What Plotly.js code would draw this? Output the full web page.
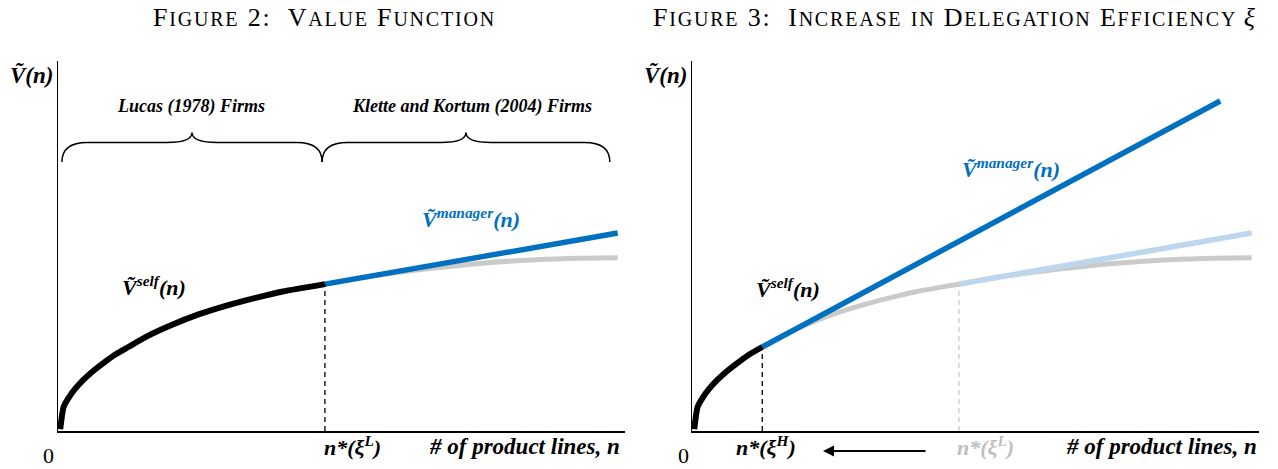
<!DOCTYPE html>
<html>
<head>
<meta charset="utf-8">
<script src="https://cdn.plot.ly/plotly-3.0.1.min.js"></script>
<style>html,body{margin:0;padding:0;background:#fff;}#chart{width:1278px;height:469px;}</style>
</head>
<body>
<div id="chart"></div>
<script>
// ---- data ----
const curveN = [0.04, 0.1, 0.2, 0.3, 0.45, 0.6, 0.8, 1.0, 1.25, 1.6, 2.0, 2.5, 3.0, 3.5, 4.0, 4.75, 5.5, 6.5, 7.5, 8.5, 9.3, 9.96];
const curveV = [0.05, 0.65, 0.92, 1.13, 1.38, 1.59, 1.83, 2.05, 2.27, 2.57, 2.85, 3.15, 3.39, 3.59, 3.77, 3.97, 4.17, 4.37, 4.53, 4.63, 4.67, 4.68];
const nStarLow = 4.75;   // n*(xi^L)
const nStarHigh = 1.25;  // n*(xi^H)
const managerLowN = [4.75, 9.96];
const managerLowV = [3.97, 5.35];
const managerHighN = [1.25, 9.4];
const managerHighV = [2.27, 8.92];
const regimeLabels = ["Lucas (1978) Firms", "Klette and Kortum (2004) Firms"];

// ---- helpers ----
function vAt(n){ const i = curveN.indexOf(n); return curveV[i]; }
function upTo(lim){ const a=[],b=[]; curveN.forEach((x,i)=>{ if(x<=lim+1e-9){a.push(x);b.push(curveV[i]);} }); return [a,b]; }
function from(lim){ const a=[],b=[]; curveN.forEach((x,i)=>{ if(x>=lim-1e-9){a.push(x);b.push(curveV[i]);} }); return [a,b]; }

const W = 1278, H = 469;
const px = x => x / W;
const py = y => 1 - y / H;

const BLUE = '#0070C0', LBLUE = '#BDD7EE', GRAY = '#CACACA', DGRAY = '#C8C8C8';
const serif = '"Liberation Serif", "Times New Roman", serif';
const fnt = (size, color) => ({family: serif, size: size, color: color || '#000'});
const bi = s => '<b><i>' + s + '</i></b>';

// small-caps title builder: capitals large, other letters as small capitals
function smallCaps(str, small, ls){
  let out = '', buf = '';
  const flush = () => { if(buf){ out += `<span style="font-size:${small}px;letter-spacing:${ls}px">${buf.toUpperCase()}</span>`; buf=''; } };
  for (const ch of str){
    if (/[a-z]/.test(ch)) buf += ch; else { flush(); out += `<span style="letter-spacing:${ls}px">${ch}</span>`; }
  }
  flush();
  return out;
}

const [bL_n, bL_v] = upTo(nStarLow);
const [gL_n, gL_v] = from(nStarLow);
const [bH_n, bH_v] = upTo(nStarHigh);
const [gH_n, gH_v] = from(nStarHigh);

const line = (x, y, color, width, xa, ya, dash) => ({
  x: x, y: y, type: 'scatter', mode: 'lines', xaxis: xa, yaxis: ya,
  line: {color: color, width: width, shape: 'spline', smoothing: 0.6, dash: dash || 'solid'},
  hoverinfo: 'skip', showlegend: false, cliponaxis: false
});

const traces = [
  // left panel
  line(gL_n, gL_v, GRAY, 5, 'x', 'y'),
  line(managerLowN, managerLowV, BLUE, 5.5, 'x', 'y'),
  line([nStarLow, nStarLow], [0, vAt(nStarLow)], '#000', 1.3, 'x', 'y', '5px,4px'),
  line(bL_n, bL_v, '#000', 6, 'x', 'y'),
  // right panel
  line(gH_n, gH_v, GRAY, 5, 'x2', 'y2'),
  line(managerLowN, managerLowV, LBLUE, 5.5, 'x2', 'y2'),
  line([nStarLow, nStarLow], [0, vAt(nStarLow)], DGRAY, 1.3, 'x2', 'y2', '5px,4px'),
  line([nStarHigh, nStarHigh], [0, vAt(nStarHigh)], '#000', 1.3, 'x2', 'y2', '5px,4px'),
  line(managerHighN, managerHighV, BLUE, 5.5, 'x2', 'y2'),
  line(bH_n, bH_v, '#000', 6, 'x2', 'y2')
];

const axX = (dom) => ({domain: dom, range: [0, 10.09], showline: true, linecolor: '#000', linewidth: 2,
  showgrid: false, zeroline: false, showticklabels: false, ticks: '', fixedrange: true});
const axY = (anchor) => ({domain: [py(431), py(61)], range: [0, 10], anchor: anchor, showline: true, linecolor: '#000',
  linewidth: 1.5, showgrid: false, zeroline: false, showticklabels: false, ticks: '', fixedrange: true});

function brace(x0, x1, yb, ym, yt, r){
  const xm = (x0 + x1) / 2;
  return `M ${x0},${yb} Q ${x0},${ym} ${x0+r},${ym} L ${xm-r},${ym} Q ${xm},${ym} ${xm},${yt} ` +
         `Q ${xm},${ym} ${xm+r},${ym} L ${x1-r},${ym} Q ${x1},${ym} ${x1},${yb}`;
}
const braceLeft = [0.07, nStarLow - 0.05];
const braceRight = [nStarLow - 0.05, 9.82];
const shapes = [
  {type: 'path', xref: 'x', yref: 'y', path: brace(braceLeft[0], braceLeft[1], 7.27, 7.8, 8.07, 0.45), line: {color: '#000', width: 1.5}},
  {type: 'path', xref: 'x', yref: 'y', path: brace(braceRight[0], braceRight[1], 7.27, 7.8, 8.07, 0.45), line: {color: '#000', width: 1.5}}
];

const ann = (text, x, y, font, extra) => Object.assign({text: text, xref: 'paper', yref: 'paper', x: px(x), y: py(y),
  xanchor: 'center', yanchor: 'middle', showarrow: false, font: font, borderpad: 0}, extra || {});

const annotations = [
  ann(smallCaps('Figure 2:  Value Function', 20, 1.8), 324, 18, fnt(26)),
  ann(smallCaps('Figure 3:  Increase in Delegation Efficiency', 20, 1.8) + ' <i>\u03BE</i>', 954, 18, fnt(26)),
  // left
  ann(bi('\u1E7C(n)'), 31, 76, fnt(23)),
  ann('0', 48, 455, fnt(22)),
  ann(bi('n*(\u03BE<sup>L</sup>)'), 352, 446, fnt(22)),
  ann(bi('# of product lines, n'), 524, 446, fnt(23)),
  ann(bi(regimeLabels[0]), 191, 107, fnt(18)),
  ann(bi(regimeLabels[1]), 472, 107, fnt(18)),
  ann(bi('\u1E7C<sup>self</sup>(n)'), 154, 286, fnt(22)),
  ann(bi('\u1E7C<sup>manager</sup>(n)'), 471, 218, fnt(22, BLUE)),
  // right
  ann(bi('\u1E7C(n)'), 665, 76, fnt(23)),
  ann('0', 683, 455, fnt(22)),
  ann(bi('n*(\u03BE<sup>H</sup>)'), 766, 446, fnt(22)),
  ann(bi('n*(\u03BE<sup>L</sup>)'), 985, 446, fnt(22, '#BFBFBF')),
  ann(bi('# of product lines, n'), 1161, 446, fnt(23)),
  ann(bi('\u1E7C<sup>self</sup>(n)'), 788, 288, fnt(22)),
  ann(bi('\u1E7C<sup>manager</sup>(n)'), 1011, 168, fnt(22, BLUE)),
  // arrow n*(xi^L) -> n*(xi^H)
  {xref: 'paper', yref: 'paper', x: px(823), y: py(451), ax: 104, ay: 0, axref: 'pixel', ayref: 'pixel', text: '',
   showarrow: true, arrowhead: 2, arrowsize: 1.1, arrowwidth: 2, arrowcolor: '#000'}
];

const layout = {
  width: W, height: H, margin: {l: 0, r: 0, t: 0, b: 0},
  paper_bgcolor: '#fff', plot_bgcolor: '#fff', showlegend: false,
  xaxis: axX([px(58), px(625)]), yaxis: axY('x'),
  xaxis2: axX([px(692), px(1259)]), yaxis2: axY('x2'),
  shapes: shapes, annotations: annotations
};
layout.xaxis2.anchor = 'y2';
layout.xaxis.anchor = 'y';

Plotly.newPlot('chart', traces, layout, {displayModeBar: false, staticPlot: true});
</script>
</body>
</html>
